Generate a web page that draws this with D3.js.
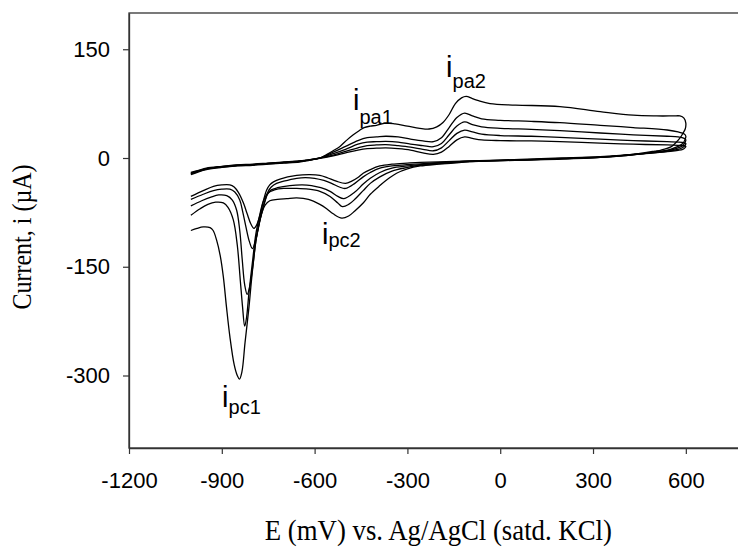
<!DOCTYPE html>
<html>
<head>
<meta charset="utf-8">
<script src="https://cdn.jsdelivr.net/npm/d3@7"></script>
<style>
  body { margin: 0; background: #fff; }
  .tick text { font-family: "Liberation Sans", Arial, sans-serif; font-size: 22px; fill: #000; }
  .title { font-family: "Liberation Serif", "Times New Roman", serif; fill: #000; }
  .note { font-family: "Liberation Sans", Arial, sans-serif; fill: #000; }
</style>
</head>
<body>
<div id="chart"></div>
<script>
// data: [E (mV), i (uA)], forward scan then reverse scan
var cv1 = [[-1000,-20],[-975,-17],[-950,-14],[-900,-11.5],[-850,-9.5],[-800,-8.5],[-750,-7],[-700,-5.5],[-650,-4],[-620,-2.5],
  [-583,-0.5],[-540,3],[-500,7],[-460,11],[-430,13],[-400,13.5],[-370,14],[-330,13],[-290,11],[-250,7],[-216,5],[-190,8],[-165,16],
  [-140,25],[-115,29],[-90,27],[-60,25],[0,24],[100,23.5],[193,22.5],[323,20.5],[430,19],[540,18],[575,17.5],[595,17],[600,16],
  [597,14],[590,12],[575,10.5],[550,9],[500,7],[430,5],[323,2],[200,0],[64,-2],[-98,-4],[-200,-5.5],[-259,-6],[-300,-7],[-350,-8.5],
  [-389,-11],[-420,-16],[-443,-21],[-460,-27],[-480,-32],[-500,-35],[-530,-32],[-560,-27],[-583,-24],[-615,-23],[-658,-24],[-712,-29],
  [-733,-33],[-745,-37],[-755,-44],[-765,-58],[-776,-78],[-788,-93],[-796,-97],[-806,-91],[-818,-77],[-830,-62],[-847,-47],[-860,-40],
  [-874,-37],[-900,-37],[-927,-39],[-960,-45],[-1000,-53]];

var cv2 = [[-1000,-21],[-975,-17.5],[-950,-14.5],[-900,-12],[-850,-10],[-800,-9],[-750,-7.5],[-700,-6],[-650,-4.5],[-620,-3],
  [-583,0],[-540,4],[-500,9],[-460,14],[-430,17],[-400,18],[-370,18.5],[-330,17],[-290,15],[-250,12],[-216,10],[-190,14],[-165,24],
  [-140,34],[-115,38.5],[-90,36],[-60,33],[0,31],[100,30],[193,28.5],[323,26],[430,24],[540,22.5],[575,22],[595,21],[600,20],
  [597,17],[590,14.5],[575,12],[550,10],[500,7.5],[430,5],[323,1.5],[200,-0.5],[64,-2.5],[-98,-4.5],[-200,-6.5],[-259,-8],[-300,-9],
  [-350,-11],[-389,-14],[-420,-20],[-443,-26],[-470,-35],[-500,-42],[-520,-40],[-545,-35],[-570,-31],[-600,-28],[-630,-27],[-658,-28],
  [-700,-32],[-723,-35],[-740,-40],[-750,-46],[-762,-62],[-776,-85],[-790,-112],[-801,-125],[-811,-115],[-822,-95],[-832,-75],
  [-842,-58],[-858,-47],[-874,-43],[-900,-43],[-927,-45],[-960,-50],[-1000,-57]];

var cv3 = [[-1000,-21.5],[-975,-18],[-950,-15],[-900,-12],[-850,-10],[-800,-9],[-750,-7.5],[-700,-6],[-650,-4.5],[-620,-3],
  [-583,0],[-540,6],[-500,12],[-460,19],[-430,22],[-400,22.5],[-370,23],[-330,22],[-290,19],[-250,17],[-216,15.6],[-190,20],[-165,32],
  [-140,44],[-115,49.7],[-90,46],[-60,43],[0,41],[100,39.5],[193,37.7],[323,34.5],[430,32],[540,30],[575,29],[595,27],[600,25],
  [597,21],[590,17],[575,14],[550,11],[500,8],[430,4.5],[323,1],[200,-1],[64,-2.8],[-98,-4.5],[-200,-7],[-259,-9],[-300,-11],
  [-350,-14],[-389,-20],[-420,-28],[-443,-36],[-470,-47],[-505,-56],[-525,-53],[-550,-46],[-580,-41],[-610,-38],[-640,-37],[-680,-38],
  [-720,-41],[-740,-44],[-752,-50],[-765,-65],[-778,-88],[-790,-115],[-800,-150],[-810,-178],[-818,-188],[-826,-175],[-834,-140],
  [-842,-100],[-852,-72],[-866,-58],[-884,-52],[-910,-51],[-935,-54],[-965,-59],[-1000,-66]];

var cv4 = [[-1000,-22],[-975,-18.5],[-950,-15.5],[-900,-12.5],[-850,-10.5],[-800,-9.5],[-750,-8],[-700,-6.5],[-650,-5],[-620,-3],
  [-583,0],[-540,8],[-500,16],[-460,24],[-430,28],[-400,29],[-370,30],[-330,29],[-290,26],[-250,23.5],[-216,22.5],[-190,28],[-165,42],
  [-140,56],[-115,62],[-90,58],[-60,54],[0,52],[100,50.5],[193,48.7],[323,45],[430,42],[540,38.6],[575,36],[595,33],[600,30],
  [597,25],[590,20],[575,16],[550,12],[500,8.5],[430,4.5],[323,1],[200,-1],[64,-3],[-98,-5],[-200,-8],[-259,-10],[-300,-13],
  [-350,-18],[-389,-26],[-420,-35],[-443,-45],[-470,-57],[-490,-64],[-510,-67],[-525,-62],[-550,-53],[-583,-46],[-620,-43],[-658,-42],
  [-700,-42],[-730,-44],[-750,-48],[-766,-60],[-778,-80],[-790,-105],[-800,-140],[-812,-185],[-820,-220],[-826,-232],[-833,-205],
  [-840,-170],[-850,-120],[-863,-85],[-880,-68],[-895,-62],[-920,-61],[-945,-64],[-970,-70],[-1000,-79]];

var cv5 = [[-1000,-23],[-975,-19],[-950,-16],[-900,-13],[-850,-11],[-800,-10],[-750,-8.5],[-700,-7],[-650,-5.5],[-620,-3.5],
  [-583,0],[-560,5],[-540,10],[-518,16],[-495,25],[-475,32],[-455,38],[-440,42],[-420,44],[-400,45],[-372,48],[-340,47],[-300,44],
  [-260,41],[-230,40],[-205,43],[-185,49],[-165,60],[-145,75],[-125,83],[-110,85],[-90,82],[-70,79],[-33,75],[50,73],[193,71],
  [323,64],[430,59],[506,58],[560,58],[581,58],[594,55],[600,48],
  [598,40],[592,35],[582,28],[565,20],[550,15],[520,11],[500,9.5],[430,5],[323,1],[200,-1.5],[64,-3],[-98,-5],[-151,-7],[-200,-8.5],
  [-259,-11],[-300,-15],[-335,-21],[-360,-28],[-389,-38],[-420,-50],[-443,-62],[-470,-73],[-490,-80],[-512,-83],[-540,-77],[-561,-70],
  [-583,-64],[-620,-57],[-658,-55],[-690,-56],[-720,-57],[-745,-59],[-760,-65],[-770,-75],[-782,-95],[-790,-115],[-803,-164],
  [-812,-205],[-825,-255],[-835,-295],[-843,-305],[-850,-300],[-860,-285],[-874,-246],[-885,-205],[-895,-164],[-905,-135],
  [-917,-113],[-928,-100],[-938,-96],[-960,-95],[-980,-97],[-1000,-100]];

var scans = [cv1, cv2, cv3, cv4, cv5];

var xTicks = [-1200, -900, -600, -300, 0, 300, 600];
var yTicks = [150, 0, -150, -300];

// peak labels: main letter, subscript, anchor (E, i)
var peakLabels = [
  {main: "i", sub: "pa1", E: -476, I: 66, shift: 14},
  {main: "i", sub: "pa2", E: -175, I: 112, shift: 11},
  {main: "i", sub: "pc2", E: -576, I: -119, shift: 3},
  {main: "i", sub: "pc1", E: -899, I: -343, shift: 7}
];

var svgWidth = 738;
var svgHeight = 547;

var margin = {top: 13, left: 129, bottom: 99};
var plotRight = 747.7;   // frame runs past the right edge of the picture

var svg = d3.select("#chart")
  .append("svg")
  .attr("width", svgWidth)
  .attr("height", svgHeight)
  .style("display", "block");

var x = d3.scaleLinear()
  .domain([-1200, 800])
  .range([margin.left, plotRight]);

var y = d3.scaleLinear()
  .domain([-400, 200])
  .range([svgHeight - margin.bottom, margin.top]);

// frame
svg.append("rect")
  .attr("x", x(-1200))
  .attr("y", y(200))
  .attr("width", x(800) - x(-1200))
  .attr("height", y(-400) - y(200))
  .attr("fill", "none")
  .attr("stroke", "#333")
  .attr("stroke-width", 1.3);

// axes
var xAxis = svg.append("g")
  .attr("transform", `translate(0, ${y(-400)})`)
  .call(d3.axisBottom(x).tickValues(xTicks).tickSize(6).tickSizeOuter(0).tickPadding(18).tickFormat(d3.format("d")));

var yAxis = svg.append("g")
  .attr("transform", `translate(${x(-1200)}, 0)`)
  .call(d3.axisLeft(y).tickValues(yTicks).tickSize(6).tickSizeOuter(0).tickPadding(13).tickFormat(d3.format("d")));

[xAxis, yAxis].forEach(function(a) {
  a.select(".domain").attr("stroke", "#333").attr("stroke-width", 1.3);
  a.selectAll(".tick line").attr("stroke", "#333").attr("stroke-width", 1.2);
  a.selectAll("text").text(function(d) { return d < 0 ? "-" + Math.abs(d) : d; });
});

// voltammograms
var line = d3.line()
  .x(d => x(d[0]))
  .y(d => y(d[1]))
  .curve(d3.curveCatmullRom.alpha(0.5));

svg.append("g")
  .selectAll("path")
  .data(scans)
  .enter()
  .append("path")
  .attr("d", line)
  .attr("fill", "none")
  .attr("stroke", "#000")
  .attr("stroke-width", 1.3);

// peak labels
var notes = svg.append("g")
  .selectAll("text")
  .data(peakLabels)
  .enter()
  .append("text")
  .classed("note", true)
  .attr("x", d => x(d.E))
  .attr("y", d => y(d.I));

notes.append("tspan")
  .style("font-size", "29px")
  .text(d => d.main);

notes.append("tspan")
  .style("font-size", "20px")
  .attr("dy", d => d.shift)
  .text(d => d.sub);

// axis titles
svg.append("text")
  .classed("title", true)
  .attr("x", (x(-1200) + x(800)) / 2)
  .attr("y", 540)
  .attr("text-anchor", "middle")
  .style("font-size", "30px")
  .attr("textLength", 347)
  .attr("lengthAdjust", "spacingAndGlyphs")
  .text("E (mV) vs. Ag/AgCl (satd. KCl)");

svg.append("text")
  .classed("title", true)
  .attr("transform", "translate(31, 237) rotate(-90)")
  .attr("text-anchor", "middle")
  .style("font-size", "27px")
  .attr("textLength", 145)
  .attr("lengthAdjust", "spacingAndGlyphs")
  .text("Current, i (\u00b5A)");
</script>
</body>
</html>
